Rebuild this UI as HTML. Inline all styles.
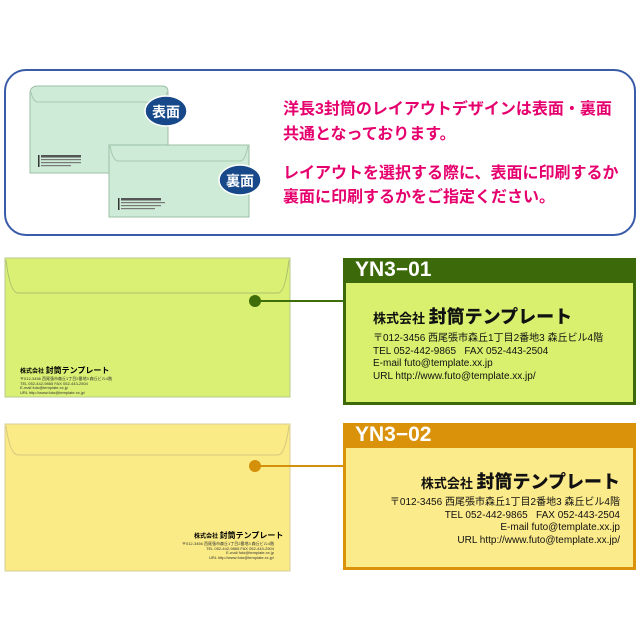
<!DOCTYPE html>
<html><head><meta charset="utf-8"><style>
body{margin:0;width:640px;height:640px;background:#fff;position:relative;overflow:hidden;font-family:"Liberation Sans","Noto Sans CJK JP",sans-serif}
.a{position:absolute}
.red{color:#e5006e;font-weight:bold;font-size:16px;white-space:nowrap}
.hd{color:#fff;font-weight:bold;font-size:21px;line-height:24px;padding-left:12px;box-sizing:border-box}
.t1{font-weight:bold;font-size:13px;white-space:nowrap;color:#111}
.t1 b{font-size:18px}
.ad{font-size:10px;line-height:12.5px;white-space:nowrap;color:#111}
</style></head><body>
<div class="a" style="left:4px;top:69px;width:628px;height:163px;border:2px solid #3a5ba8;border-radius:22px"></div>
<svg class="a" style="left:0;top:0" width="640" height="640">
 <path d="M30,173 L30,92 Q31,86 38,86 L162,86 Q168,86 168,92 L168,173 Z" fill="#cdebd6" stroke="#9cbfa5"/>
 <path d="M31,92 Q33,102 38,102 L161,102 Q166,102 167,92" fill="none" stroke="#a8c8b0"/>
 <rect x="38" y="155" width="1.5" height="12" fill="#333"/>
 <rect x="41" y="155" width="40" height="2.5" fill="#555"/>
 <rect x="41" y="159" width="40" height="1.2" fill="#777"/><rect x="41" y="162" width="40" height="1.2" fill="#777"/><rect x="41" y="165" width="30" height="1.2" fill="#777"/>
 <ellipse cx="166" cy="111" rx="21" ry="15" fill="#17498a" stroke="#fff" stroke-width="1.5"/>
 <text x="166" y="117" font-size="14" font-weight="bold" fill="#fff" text-anchor="middle" font-family="Noto Sans CJK JP,sans-serif">表面</text>
 <rect x="109" y="145" width="140" height="72" fill="#cdebd6" stroke="#9cbfa5"/>
 <path d="M110,146 Q113,161 118,161 L240,161 Q245,161 248,146" fill="none" stroke="#a8c8b0"/>
 <rect x="118" y="198" width="1.5" height="12" fill="#333"/>
 <rect x="121" y="198" width="40" height="2.5" fill="#555"/>
 <rect x="121" y="202" width="44" height="1.2" fill="#777"/><rect x="121" y="205" width="40" height="1.2" fill="#777"/><rect x="121" y="208" width="34" height="1.2" fill="#777"/>
 <ellipse cx="240" cy="180" rx="21" ry="15" fill="#17498a" stroke="#fff" stroke-width="1.5"/>
 <text x="240" y="186" font-size="14" font-weight="bold" fill="#fff" text-anchor="middle" font-family="Noto Sans CJK JP,sans-serif">裏面</text>
 <rect x="5" y="258" width="285" height="139" fill="#d9f074" stroke="#b8c890"/>
 <path d="M6,260 Q10,293 18,293 L278,293 Q285,293 289,260" fill="none" stroke="#aac070"/>
 <line x1="255" y1="301" x2="344" y2="301" stroke="#3f6d0a" stroke-width="2"/>
 <circle cx="255" cy="301" r="6" fill="#3f6d0a"/>
 <rect x="5" y="424" width="285" height="147" fill="#fbeb86" stroke="#d8cc98"/>
 <path d="M6,426 Q10,455 18,455 L278,455 Q285,455 289,426" fill="none" stroke="#d4c880"/>
 <line x1="255" y1="466" x2="344" y2="466" stroke="#d4900a" stroke-width="2"/>
 <circle cx="255" cy="466" r="6" fill="#d4900a"/>
</svg>
<div class="a red" style="left:283px;top:95px">洋長3封筒のレイアウトデザインは表面・裏面</div>
<div class="a red" style="left:283px;top:120px">共通となっております。</div>
<div class="a red" style="left:283px;top:159px">レイアウトを選択する際に、表面に印刷するか</div>
<div class="a red" style="left:283px;top:183px">裏面に印刷するかをご指定ください。</div>

<div class="a" style="left:20px;top:365px;font-size:6px;font-weight:bold;white-space:nowrap">株式会社 <span style="font-size:8px">封筒テンプレート</span></div>
<div class="a" style="left:20px;top:377px;font-size:4px;line-height:4.5px;white-space:nowrap;color:#333">〒012-3456 西尾張市森丘1丁目2番地3 森丘ビル4階<br>TEL 052-442-9865 FAX 052-443-2504<br>E-mail futo@template.xx.jp<br>URL http://www.futo@template.xx.jp/</div>
<div class="a" style="left:194px;top:530px;font-size:6px;font-weight:bold;white-space:nowrap">株式会社 <span style="font-size:8px">封筒テンプレート</span></div>
<div class="a" style="left:160px;top:542px;width:114px;text-align:right;font-size:4px;line-height:4.5px;white-space:nowrap;color:#333">〒012-3456 西尾張市森丘1丁目2番地3 森丘ビル4階<br>TEL 052-442-9865 FAX 052-443-2504<br>E-mail futo@template.xx.jp<br>URL http://www.futo@template.xx.jp/</div>

<div class="a hd" style="left:343px;top:258px;width:293px;height:25px;background:#3c6a0a">YN3−01</div>
<div class="a" style="left:343px;top:283px;width:293px;height:122px;background:#d8f06e;border:3px solid #3c6a0a;border-top:none;box-sizing:border-box"></div>
<div class="a t1" style="left:373px;top:303px">株式会社 <b>封筒テンプレート</b></div>
<div class="a ad" style="left:373px;top:333px">〒012-3456 西尾張市森丘1丁目2番地3 森丘ビル4階<br>TEL 052-442-9865 &nbsp; FAX 052-443-2504<br>E-mail futo@template.xx.jp<br>URL http://www.futo@template.xx.jp/</div>

<div class="a hd" style="left:343px;top:423px;width:293px;height:25px;background:#d99209">YN3−02</div>
<div class="a" style="left:343px;top:448px;width:293px;height:122px;background:#fceb8a;border:3px solid #d99209;border-top:none;box-sizing:border-box"></div>
<div class="a t1" style="left:380px;top:468px;width:240px;text-align:right">株式会社 <b>封筒テンプレート</b></div>
<div class="a ad" style="left:360px;top:497px;width:260px;text-align:right">〒012-3456 西尾張市森丘1丁目2番地3 森丘ビル4階<br>TEL 052-442-9865 &nbsp; FAX 052-443-2504<br>E-mail futo@template.xx.jp<br>URL http://www.futo@template.xx.jp/</div>
</body></html>
